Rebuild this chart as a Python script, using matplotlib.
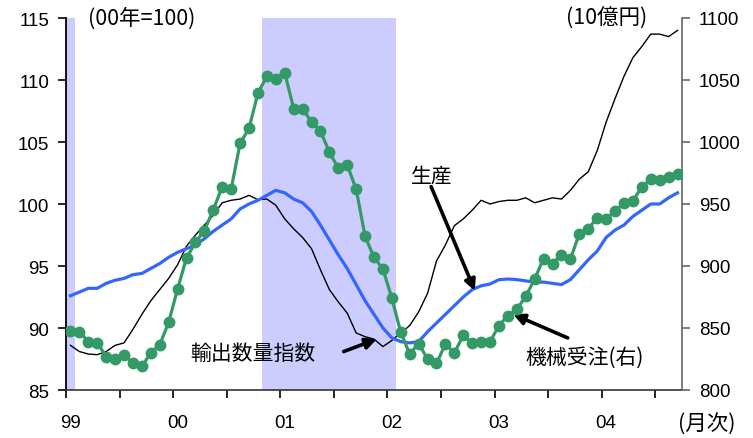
import matplotlib
matplotlib.use('Agg')
import matplotlib.pyplot as plt
import numpy as np

# ---- data (monthly, Jan 1999 - Sep 2004) ----
production = [88.6, 88.1, 87.9, 87.85, 88.1, 88.6, 88.8, 89.9, 91.1, 92.2, 93.1, 94.0,
              95.1, 96.6, 97.5, 98.3, 99.1, 100.1, 100.3, 100.4, 100.7, 100.35, 100.4, 99.9,
              98.8, 98.0, 97.3, 96.4, 94.7, 93.1, 92.1, 91.2, 89.6, 89.3, 89.1, 88.5,
              89.0, 89.6, 90.2, 91.3, 92.8, 95.4, 96.7, 98.25, 98.8, 99.5, 100.3, 100.0,
              100.2, 100.3, 100.3, 100.5, 100.1, 100.3, 100.5, 100.4, 101.1, 102.0, 102.6, 104.3,
              106.6, 108.5, 110.3, 111.8, 112.7, 113.7, 113.7, 113.5, 114.0]
export_volume = [92.6, 92.9, 93.2, 93.2, 93.6, 93.85, 94.0, 94.3, 94.4, 94.8, 95.2, 95.7,
                 96.1, 96.4, 96.7, 97.2, 97.8, 98.3, 98.8, 99.6, 100.0, 100.3, 100.7, 101.1,
                 100.9, 100.4, 100.1, 99.4, 98.3, 97.1, 95.9, 94.8, 93.5, 92.2, 91.1, 90.0,
                 89.2, 88.9, 88.8, 88.9, 89.7, 90.4, 91.1, 91.8, 92.5, 93.1, 93.4, 93.55,
                 93.9, 93.95, 93.9, 93.8, 93.7, 93.7, 93.6, 93.5, 93.9, 94.7, 95.5, 96.2,
                 97.3, 97.9, 98.3, 99.0, 99.5, 100.0, 100.0, 100.5, 100.9]
machine_orders = [847.5, 847, 839, 838, 827, 825, 828, 822, 819, 830, 836.5, 854.6,
                  881.5, 906.5, 919, 928.5, 945.4, 964, 962, 999, 1011, 1039.5, 1053, 1051,
                  1056, 1027, 1027, 1016, 1009, 991.7, 979, 981.5, 962, 924, 907, 897.6,
                  874, 846.5, 829, 837.5, 825, 821.5, 837, 830, 844, 838, 839, 839,
                  852, 860, 865, 875.6, 889.5, 906, 902, 909, 905.6, 926, 930, 939,
                  938, 944.6, 950.6, 952.7, 963.5, 970, 969.6, 971.5, 974]
year_labels = ['99', '00', '01', '02', '03', '04']
recessions = [(0, 1), (22, 37)]  # month index ranges

n = len(machine_orders)
x = np.arange(n) + 0.5

plt.rcParams['font.family'] = ['Liberation Sans', 'Noto Sans CJK JP', 'DejaVu Sans']
jp = ['Noto Sans CJK JP', 'Liberation Sans', 'DejaVu Sans']

fig = plt.figure(figsize=(7.53, 4.39), dpi=100)
ax = fig.add_axes([66/753, 48/439, 616/753, 372/439])
ax2 = ax.twinx()

for a, b in recessions:
    ax.axvspan(a, b, color='#CCCCFF', lw=0, zorder=0)

ax.plot(x, production, color='black', lw=1.0, zorder=3)
ax.plot(x, export_volume, color='#3366FF', lw=2.3, zorder=3)
ax2.plot(x, machine_orders, color='#339966', lw=2.3, marker='o', ms=7.5, zorder=3)

ax.set_xlim(0, 69)
ax.set_ylim(85, 115)
ax2.set_ylim(800, 1100)
ax.set_yticks(np.arange(85, 116, 5))
ax2.set_yticks(np.arange(800, 1101, 50))

ax.set_xticks(np.arange(0, 67, 6))
ax.set_xticklabels([])
ax.set_xticks(np.arange(len(year_labels)) * 12 + 0.5, minor=True)
ax.set_xticklabels(year_labels, minor=True)
ax.tick_params(axis='x', which='minor', length=0, pad=17, labelsize=13.5)
ax.tick_params(axis='x', which='major', length=6, width=1.2, direction='out')
ax.tick_params(axis='y', length=6, width=1.2, direction='out', labelsize=13.5, pad=6)
ax2.tick_params(axis='y', length=6, width=1.2, direction='out', labelsize=13.5, pad=6,
                color='#666666')

for a in (ax, ax2):
    a.spines['top'].set_visible(False)
ax.spines['right'].set_visible(False)
ax2.spines['left'].set_visible(False)
ax2.spines['bottom'].set_visible(False)
ax.spines['left'].set_linewidth(1.3)
ax.spines['bottom'].set_linewidth(1.2)
ax.spines['bottom'].set_color('#333333')
ax2.spines['right'].set_color('#666666')
ax2.spines['right'].set_linewidth(1.2)

ax.text(0.036, 1.0, '(00年=100)', transform=ax.transAxes, ha='left', va='center',
        fontsize=15.5, family=jp)
ax.text(0.943, 1.0, '(10億円)', transform=ax.transAxes, ha='right', va='center',
        fontsize=15.5, family=jp)
fig.text(678/753, 1 - 425/439, '(月次)', ha='left', va='center', fontsize=15.5, family=jp)

arrow = dict(arrowstyle='-|>', color='black', lw=2.6, mutation_scale=16,
             shrinkA=0, shrinkB=0)
ax.text(41.0, 102.3, '生産', ha='center', va='center', fontsize=15, family=jp, zorder=6)
ax.annotate('', xy=(45.8, 93.0), xytext=(40.9, 101.4), arrowprops=arrow, zorder=6)
ax.text(20.9, 88.0, '輸出数量指数', ha='center', va='center', fontsize=15, family=jp, zorder=6)
ax.annotate('', xy=(34.8, 89.1), xytext=(31.1, 88.1), arrowprops=arrow, zorder=6)
ax.text(58.1, 87.66, '機械受注(右)', ha='center', va='center', fontsize=15, family=jp, zorder=6)
ax.annotate('', xy=(50.1, 91.1), xytext=(56.2, 89.2), arrowprops=arrow, zorder=6)

ax2.set_zorder(ax.get_zorder() + 1)
ax2.patch.set_visible(False)

fig.savefig('out.png', dpi=100)
